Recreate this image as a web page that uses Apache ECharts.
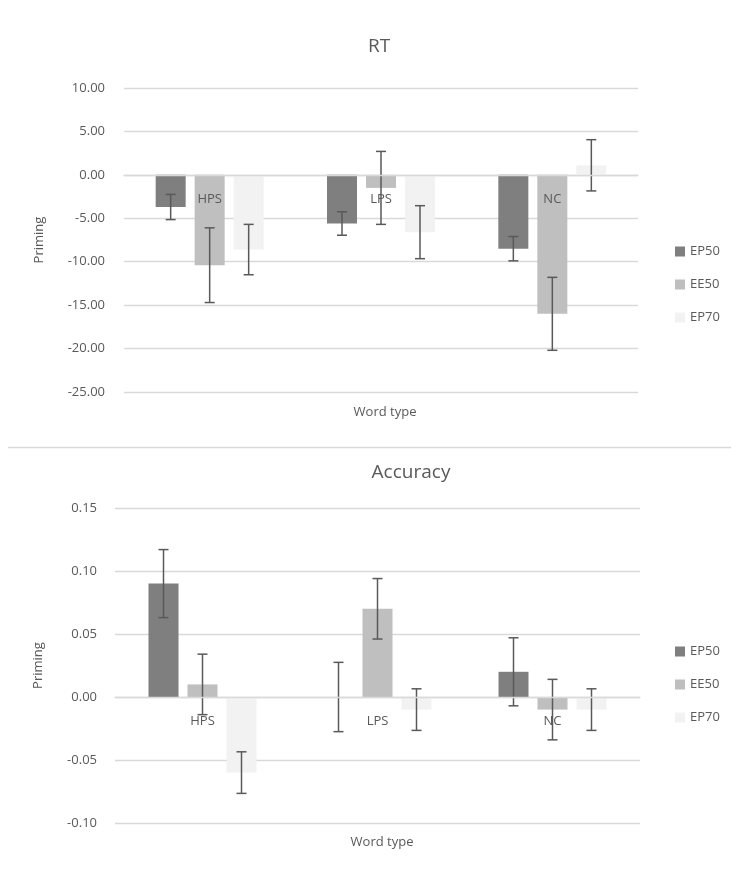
<!DOCTYPE html>
<html>
<head>
<meta charset="utf-8">
<script src="https://cdn.jsdelivr.net/npm/echarts@6/dist/echarts.min.js"></script>
<style>
  html, body { margin: 0; padding: 0; background: #fff; }
  #main { width: 731px; height: 872px; }
</style>
</head>
<body>
<div id="main"></div>
<script>
  var categories = ['HPS', 'LPS', 'NC'];
  var seriesNames = ['EP50', 'EE50', 'EP70'];

  // RT priming (means and error bar half-lengths)
  var rtEP50 = [-3.7, -5.6, -8.5];
  var rtEE50 = [-10.4, -1.5, -16.0];
  var rtEP70 = [-8.6, -6.6, 1.1];
  var rtErrEP50 = [1.45, 1.35, 1.4];
  var rtErrEE50 = [4.3, 4.2, 4.2];
  var rtErrEP70 = [2.9, 3.05, 2.95];

  // Accuracy priming
  var accEP50 = [0.09, 0, 0.02];
  var accEE50 = [0.01, 0.07, -0.01];
  var accEP70 = [-0.06, -0.01, -0.01];
  var accErrEP50 = [0.027, 0.0275, 0.027];
  var accErrEE50 = [0.024, 0.024, 0.024];
  var accErrEP70 = [0.0165, 0.0165, 0.0165];

  var colors = ['#7f7f7f', '#bfbfbf', '#f2f2f2'];
  var textColor = '#595959';
  var font = 'Open Sans';
  var barW = 30;
  var barGapPx = 9;

  function errData(means, errs) {
    return means.map(function (m, i) { return [i, m, errs[i]]; });
  }

  function errSeries(name, means, errs, idx, gridIdx) {
    var offset = (idx - 1) * (barW + barGapPx);
    return {
      name: name + ' err',
      type: 'custom',
      xAxisIndex: gridIdx,
      yAxisIndex: gridIdx,
      z: 5,
      silent: true,
      encode: {x: 0, y: 1},
      data: errData(means, errs),
      renderItem: function (params, api) {
        var c = api.value(0), m = api.value(1), e = api.value(2);
        var top = api.coord([c, m + e]);
        var bot = api.coord([c, m - e]);
        var x = top[0] + offset;
        var st = {stroke: '#595959', lineWidth: 1.5};
        return {
          type: 'group',
          children: [
            {type: 'line', shape: {x1: x, y1: top[1], x2: x, y2: bot[1]}, style: st},
            {type: 'line', shape: {x1: x - 5, y1: top[1], x2: x + 5, y2: top[1]}, style: st},
            {type: 'line', shape: {x1: x - 5, y1: bot[1], x2: x + 5, y2: bot[1]}, style: st}
          ]
        };
      }
    };
  }

  function barSeries(name, data, idx, gridIdx) {
    return {
      name: name,
      type: 'bar',
      xAxisIndex: gridIdx,
      yAxisIndex: gridIdx,
      barWidth: barW,
      barGap: (barGapPx / barW * 100) + '%',
      itemStyle: {color: colors[idx]},
      data: data
    };
  }

  // labels sit just under the zero line, as in the original
  function catAxis(gridIdx, labelMargin) {
    return {
      type: 'category', gridIndex: gridIdx, data: categories, z: 10,
      axisLine: {show: true, onZero: true, lineStyle: {color: '#d9d9d9', width: 1.3}},
      axisTick: {show: false},
      axisLabel: {color: textColor, fontSize: 13, margin: labelMargin}
    };
  }

  var chart = echarts.init(document.getElementById('main'));
  chart.setOption({
    animation: false,
    textStyle: {fontFamily: font},
    title: [
      {text: 'RT', left: 374, top: 32, textAlign: 'center',
        textStyle: {fontSize: 19, fontWeight: 'normal', color: textColor, fontFamily: font}},
      {text: 'Accuracy', left: 406, top: 458, textAlign: 'center',
        textStyle: {fontSize: 19, fontWeight: 'normal', color: textColor, fontFamily: font}},
      {text: 'Word type', left: 380, top: 401, textAlign: 'center',
        textStyle: {fontSize: 13, fontWeight: 'normal', color: textColor, fontFamily: font}},
      {text: 'Word type', left: 377, top: 831, textAlign: 'center',
        textStyle: {fontSize: 13, fontWeight: 'normal', color: textColor, fontFamily: font}}
    ],
    legend: [
      {data: seriesNames, orient: 'vertical', left: 670, top: 240, icon: 'rect',
        itemWidth: 10, itemHeight: 10, itemGap: 20,
        textStyle: {fontSize: 13, color: textColor, fontFamily: font}},
      {data: seriesNames.map(function (n) { return {name: n + ' '}; }),
        orient: 'vertical', left: 670, top: 640, icon: 'rect',
        itemWidth: 10, itemHeight: 10, itemGap: 20,
        formatter: function (n) { return n.trim(); },
        textStyle: {fontSize: 13, color: textColor, fontFamily: font}}
    ],
    graphic: [{
      type: 'line',
      shape: {x1: 8, y1: 447.5, x2: 731, y2: 447.5},
      style: {stroke: '#d9d9d9', lineWidth: 1.5}
    }],
    grid: [
      {left: 124, right: 93, top: 88, height: 304},
      {left: 115, right: 91, top: 508, height: 315}
    ],
    xAxis: [catAxis(0, -199), catAxis(1, -108)],
    yAxis: [
      {type: 'value', gridIndex: 0, min: -25, max: 10, interval: 5,
        name: 'Priming', nameLocation: 'middle', nameGap: 78,
        nameTextStyle: {color: textColor, fontSize: 13},
        axisLabel: {color: textColor, fontSize: 13, margin: 19,
          formatter: function (v) { return v.toFixed(2); }},
        splitLine: {lineStyle: {color: '#d9d9d9', width: 1.3}}},
      {type: 'value', gridIndex: 1, min: -0.1, max: 0.15, interval: 0.05,
        name: 'Priming', nameLocation: 'middle', nameGap: 70,
        nameTextStyle: {color: textColor, fontSize: 13},
        axisLabel: {color: textColor, fontSize: 13, margin: 18,
          formatter: function (v) { return v.toFixed(2); }},
        splitLine: {lineStyle: {color: '#d9d9d9', width: 1.3}}}
    ],
    series: [
      barSeries('EP50', rtEP50, 0, 0),
      barSeries('EE50', rtEE50, 1, 0),
      barSeries('EP70', rtEP70, 2, 0),
      barSeries('EP50 ', accEP50, 0, 1),
      barSeries('EE50 ', accEE50, 1, 1),
      barSeries('EP70 ', accEP70, 2, 1),
      errSeries('EP50', rtEP50, rtErrEP50, 0, 0),
      errSeries('EE50', rtEE50, rtErrEE50, 1, 0),
      errSeries('EP70', rtEP70, rtErrEP70, 2, 0),
      errSeries('EP50 acc', accEP50, accErrEP50, 0, 1),
      errSeries('EE50 acc', accEE50, accErrEE50, 1, 1),
      errSeries('EP70 acc', accEP70, accErrEP70, 2, 1)
    ]
  });
</script>
</body>
</html>
